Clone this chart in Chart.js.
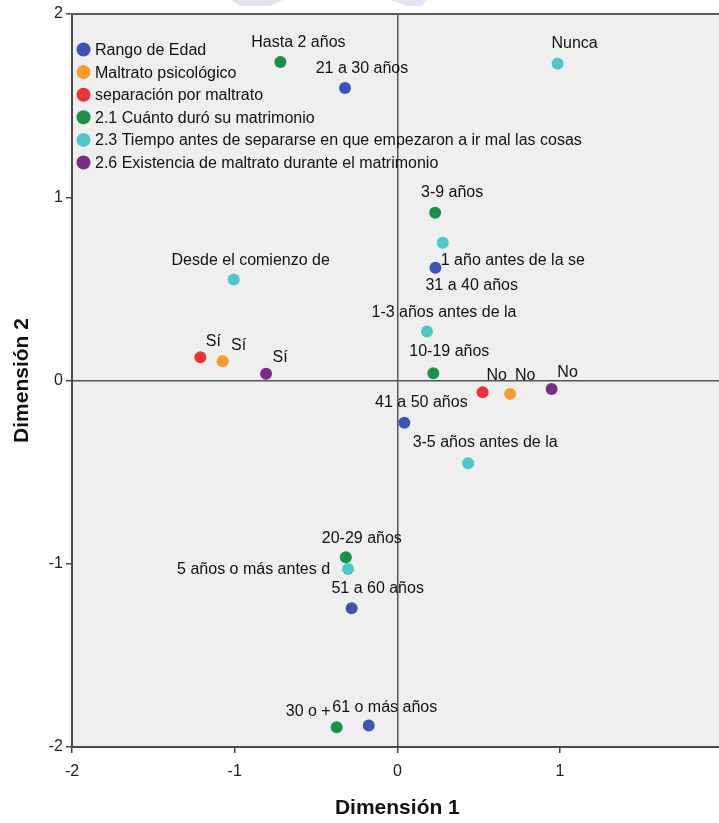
<!DOCTYPE html>
<html>
<head>
<meta charset="utf-8">
<script src="https://cdn.jsdelivr.net/npm/chart.js@4/dist/chart.umd.min.js"></script>
<style>
  html, body { margin: 0; padding: 0; background: #ffffff; overflow: hidden; }
  canvas { display: block; }
</style>
</head>
<body>
<canvas id="mapa" width="725" height="823"></canvas>
<script>
// Category points of the joint plot (Dimensión 1, Dimensión 2)
const seriesNames = [
  'Rango de Edad',
  'Maltrato psicológico',
  'separación por maltrato',
  '2.1 Cuánto duró su matrimonio',
  '2.3 Tiempo antes de separarse en que empezaron a ir mal las cosas',
  '2.6 Existencia de maltrato durante el matrimonio'
];

const edadLabels = ['21 a 30 años', '31 a 40 años', '41 a 50 años', '51 a 60 años', '61 o más años'];
const edadDim1 = [-0.322, 0.234, 0.043, -0.281, -0.176];
const edadDim2 = [1.596, 0.615, -0.231, -1.243, -1.883];

const maltratoLabels = ['Sí', 'No'];
const maltratoDim1 = [-1.074, 0.693];
const maltratoDim2 = [0.105, -0.073];

const separacionLabels = ['Sí', 'No'];
const separacionDim1 = [-1.211, 0.524];
const separacionDim2 = [0.127, -0.064];

const duracionLabels = ['Hasta 2 años', '3-9 años', '10-19 años', '20-29 años', '30 o +'];
const duracionDim1 = [-0.719, 0.232, 0.221, -0.317, -0.373];
const duracionDim2 = [1.738, 0.915, 0.040, -0.965, -1.892];

const tiempoLabels = ['Nunca', '1 año antes de la se', 'Desde el comienzo de', '1-3 años antes de la', '3-5 años antes de la', '5 años o más antes d'];
const tiempoDim1 = [0.985, 0.279, -1.006, 0.182, 0.435, -0.303];
const tiempoDim2 = [1.729, 0.752, 0.551, 0.267, -0.452, -1.029];

const existenciaLabels = ['Sí', 'No'];
const existenciaDim1 = [-0.807, 0.948];
const existenciaDim2 = [0.037, -0.046];

const axisTicks = [-2, -1, 0, 1, 2];

// Where each point's text sits relative to its marker: [dx, dy, align]
const labelPlacement = [
  [[17, -19, 'center'], [-10, 18, 'left'], [17, -20, 'center'], [26, -20, 'center'], [16, -18, 'center']],
  [[16, -16, 'center'], [15, -18, 'center']],
  [[13, -16, 'center'], [14, -17, 'center']],
  [[18, -19, 'center'], [17, -20, 'center'], [16, -22, 'center'], [16, -19, 'center'], [-6, -16, 'right']],
  [[17, -20, 'center'], [-2, 18, 'left'], [17, -19, 'center'], [17, -19, 'center'], [17, -21, 'center'], [-18, 1, 'right']],
  [[14, -16, 'center'], [16, -16, 'center']]
];

const palette = ['#3b55b4', '#f89c29', '#ee3239', '#18924a', '#4cc8ca', '#7a2b86'];

const FONT = "'Liberation Sans', Arial, sans-serif";

function toPoints(xs, ys, names) {
  return xs.map((x, i) => ({ x: x, y: ys[i], name: names[i] }));
}

const groups = [
  [edadDim1, edadDim2, edadLabels],
  [maltratoDim1, maltratoDim2, maltratoLabels],
  [separacionDim1, separacionDim2, separacionLabels],
  [duracionDim1, duracionDim2, duracionLabels],
  [tiempoDim1, tiempoDim2, tiempoLabels],
  [existenciaDim1, existenciaDim2, existenciaLabels]
];

const datasets = groups.map((g, i) => ({
  label: seriesNames[i],
  data: toPoints(g[0], g[1], g[2]),
  backgroundColor: palette[i],
  borderColor: palette[i],
  borderWidth: 0,
  pointRadius: 6,
  pointHoverRadius: 6
}));

// Plot background, frame top line and faint marks above the frame
const plotFrame = {
  id: 'plotFrame',
  beforeDraw(chart) {
    const { ctx, chartArea: a } = chart;
    ctx.save();
    ctx.fillStyle = '#ffffff';
    ctx.fillRect(0, 0, chart.width, chart.height);
    ctx.fillStyle = '#e0e4f3';
    ctx.beginPath();
    ctx.moveTo(230, 0); ctx.lineTo(283, 0); ctx.lineTo(270, 6); ctx.lineTo(241, 6); ctx.closePath();
    ctx.fill();
    ctx.beginPath();
    ctx.moveTo(390, 0); ctx.lineTo(427, 0); ctx.lineTo(422, 6); ctx.lineTo(407, 6); ctx.closePath();
    ctx.fill();
    ctx.fillStyle = '#efefef';
    ctx.fillRect(a.left, a.top, a.right - a.left, a.bottom - a.top);
    ctx.restore();
  },
  beforeDatasetsDraw(chart) {
    const { ctx, chartArea: a } = chart;
    ctx.save();
    ctx.strokeStyle = '#5c5c5c';
    ctx.lineWidth = 2;
    ctx.beginPath();
    ctx.moveTo(a.left - 1, a.top);
    ctx.lineTo(a.right, a.top);
    ctx.stroke();
    ctx.restore();
  }
};

// Category names next to each point
const pointNames = {
  id: 'pointNames',
  afterDatasetsDraw(chart) {
    const { ctx } = chart;
    ctx.save();
    ctx.font = '16px ' + FONT;
    ctx.fillStyle = '#111111';
    ctx.textBaseline = 'middle';
    chart.data.datasets.forEach((ds, di) => {
      const meta = chart.getDatasetMeta(di);
      meta.data.forEach((el, pi) => {
        const p = labelPlacement[di][pi];
        ctx.textAlign = p[2];
        ctx.fillText(ds.data[pi].name, el.x + p[0], el.y + p[1]);
      });
    });
    ctx.restore();
  }
};

// Legend inside the plot, top left
const innerLegend = {
  id: 'innerLegend',
  afterDatasetsDraw(chart) {
    const { ctx, chartArea: a } = chart;
    ctx.save();
    ctx.font = '16px ' + FONT;
    ctx.textBaseline = 'middle';
    ctx.textAlign = 'left';
    chart.data.datasets.forEach((ds, i) => {
      const y = a.top + 35.5 + i * 22.6;
      ctx.fillStyle = ds.backgroundColor;
      ctx.beginPath();
      ctx.arc(a.left + 11.5, y, 7, 0, Math.PI * 2);
      ctx.fill();
      ctx.fillStyle = '#111111';
      ctx.fillText(ds.label, a.left + 23, y + 1);
    });
    ctx.restore();
  }
};

// Axis titles
const axisTitles = {
  id: 'axisTitles',
  afterDraw(chart) {
    const { ctx, chartArea: a } = chart;
    const xs = chart.scales.x;
    ctx.save();
    ctx.font = 'bold 21px ' + FONT;
    ctx.fillStyle = '#111111';
    ctx.textAlign = 'center';
    ctx.textBaseline = 'middle';
    ctx.fillText('Dimensión 1', xs.getPixelForValue(0), 808);
    ctx.translate(22, (a.top + a.bottom) / 2);
    ctx.rotate(-Math.PI / 2);
    ctx.fillText('Dimensión 2', 0, 0);
    ctx.restore();
  }
};

function zeroLine(ctx) {
  return ctx.tick && ctx.tick.value === 0 ? '#555555' : 'rgba(0,0,0,0)';
}

function keepAxisTicks(scale) {
  scale.ticks = axisTicks.filter(v => v >= scale.min && v <= scale.max).map(v => ({ value: v }));
}

new Chart(document.getElementById('mapa'), {
  type: 'scatter',
  data: { datasets: datasets },
  options: {
    responsive: false,
    animation: false,
    devicePixelRatio: 1,
    layout: { padding: { top: 14, left: 0, right: 0, bottom: 0 } },
    plugins: {
      legend: { display: false },
      tooltip: { enabled: false }
    },
    scales: {
      x: {
        type: 'linear',
        min: -2,
        max: 1.977,
        afterBuildTicks: keepAxisTicks,
        afterFit: s => { s.height = 76; },
        ticks: {
          font: { size: 16, family: FONT },
          color: '#222222',
          padding: 9,
          maxRotation: 0,
          autoSkip: false
        },
        grid: {
          drawOnChartArea: true,
          color: zeroLine,
          lineWidth: 1.5,
          tickLength: 6,
          tickColor: '#444444',
          tickWidth: 1.5
        },
        border: { display: true, color: '#4a4a4a', width: 2 }
      },
      y: {
        type: 'linear',
        min: -2,
        max: 2,
        afterBuildTicks: keepAxisTicks,
        afterFit: s => { s.width = 72; },
        ticks: {
          font: { size: 16, family: FONT },
          color: '#222222',
          padding: 3
        },
        grid: {
          drawOnChartArea: true,
          color: zeroLine,
          lineWidth: 1.5,
          tickLength: 6,
          tickColor: '#444444',
          tickWidth: 1.5
        },
        border: { display: true, color: '#4a4a4a', width: 2 }
      }
    }
  },
  plugins: [plotFrame, pointNames, innerLegend, axisTitles]
});
</script>
</body>
</html>
